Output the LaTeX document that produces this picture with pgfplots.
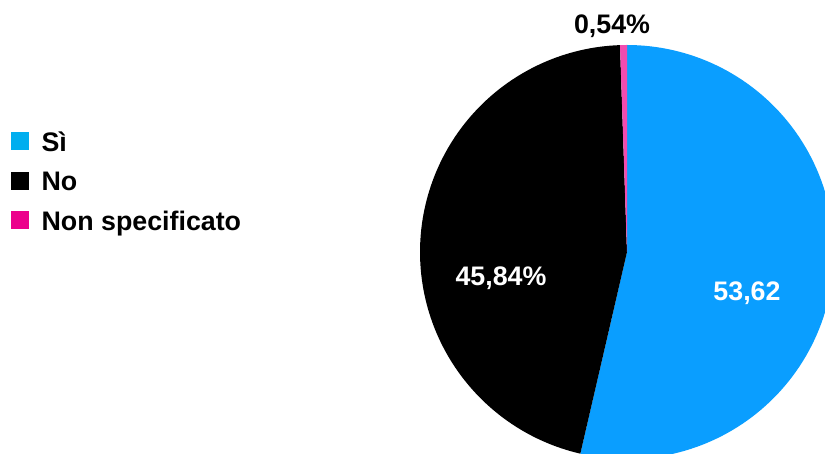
\documentclass[border=0pt]{standalone}
\usepackage{pgfplots}
\pgfplotsset{compat=1.18}
\usepackage{fontspec}
\setmainfont{Liberation Sans}
\definecolor{piblue}{RGB}{10,158,255}
\definecolor{legblue}{RGB}{0,174,239}
\definecolor{pipink}{RGB}{236,0,140}
\definecolor{legpink}{RGB}{236,0,140}
% data (percent)
\def\vSi{53.62}
\def\vNo{45.84}
\def\vNS{0.54}
\def\cx{627}
\def\cy{202}
\def\rr{207}
\begin{document}
\begin{tikzpicture}
\pgfmathsetmacro{\aA}{90}
\pgfmathsetmacro{\aB}{90-3.6*\vSi}
\pgfmathsetmacro{\aC}{\aB-3.6*\vNo}
\pgfmathsetmacro{\aD}{\aC-3.6*\vNS}
\begin{axis}[
  scale only axis, width=825pt, height=454pt,
  xmin=0, xmax=825, ymin=0, ymax=454,
  axis lines=none, clip=true,
  legend style={at={(0.0133,0.711)}, anchor=north west, draw=none, fill=none,
    font=\fontsize{26.8}{30}\selectfont\bfseries, row sep=19pt, inner sep=0pt,
    legend cell align=left, nodes={inner sep=0pt}},
]
\addplot[fill=piblue, draw=none, domain=\aB:\aA, samples=120, forget plot]
  ({\cx+\rr*cos(x)},{\cy+\rr*sin(x)}) -- (axis cs:\cx,\cy) -- cycle;
\addplot[fill=black, draw=none, domain=\aC:\aB, samples=120, forget plot]
  ({\cx+\rr*cos(x)},{\cy+\rr*sin(x)}) -- (axis cs:\cx,\cy) -- cycle;
\addplot[fill=pipink!70!white, draw=none, domain=\aD:\aC, samples=10, forget plot]
  ({\cx+\rr*cos(x)},{\cy+\rr*sin(x)}) -- (axis cs:\cx,\cy) -- cycle;
\addlegendimage{legend image code/.code={\fill[legblue] (0pt,-7pt) rectangle (17pt,10pt); \path (30pt,0pt);}}
\addlegendentry{Sì}
\addlegendimage{legend image code/.code={\fill[black] (0pt,-7pt) rectangle (17pt,10pt); \path (30pt,0pt);}}
\addlegendentry{No}
\addlegendimage{legend image code/.code={\fill[legpink] (0pt,-7pt) rectangle (17pt,10pt); \path (30pt,0pt);}}
\addlegendentry{Non specificato}
\node[font=\fontsize{26.8}{30}\selectfont\bfseries, text=black] at (axis cs:612,428) {0,54\%};
\node[font=\fontsize{26.8}{30}\selectfont\bfseries, text=white] at (axis cs:501,176) {45,84\%};
\node[font=\fontsize{26.8}{30}\selectfont\bfseries, text=white] at (axis cs:747,161) {53,62};
\end{axis}
\pgfresetboundingbox
\path (current axis.south west) rectangle (current axis.north east);
\end{tikzpicture}
\end{document}
